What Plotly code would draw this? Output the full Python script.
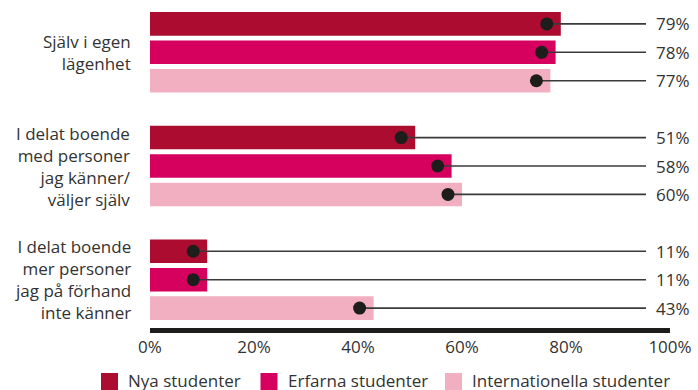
import plotly.graph_objects as go

# Housing categories (rows) and student groups (series)
categories = [
    "Själv i egen<br>lägenhet",
    "I delat boende<br>med personer<br>jag känner/<br>väljer själv",
    "I delat boende<br>mer personer<br>jag på förhand<br>inte känner",
]
series_names = ["Nya studenter", "Erfarna studenter", "Internationella studenter"]
nya = [79, 51, 11]
erfarna = [78, 58, 11]
internationella = [77, 60, 43]
x_ticks = [0, 20, 40, 60, 80, 100]
x_tick_labels = [f"{t}%" for t in x_ticks]

series_values = [nya, erfarna, internationella]
colors = ["#AB0C2F", "#D6005F", "#F1AFC1"]

FONT = "Open Sans"
TEXT = "#333333"
DOT = "#1D1D1B"

# Canvas / plot geometry in pixels
W, H = 698, 390
ML, MR, MT, MB = 150, 28, 4, 62
PW, PH = W - ML - MR, H - MT - MB


def px_x(px):
    return (px - ML) / PW


def px_y(py):
    return (H - MB - py) / PH


DOT_INSET = 14 * 100 / PW        # callout dot sits 14 px inside the bar end
LEADER_END = (646 - ML) * 100 / PW  # callout line stops just before the value label
SLOTS_PER_GROUP = len(series_names) + 1

fig = go.Figure()

positions = [[g * SLOTS_PER_GROUP + s for g in range(len(categories))]
             for s in range(len(series_names))]

for name, vals, ys, col in zip(series_names, series_values, positions, colors):
    fig.add_trace(go.Bar(
        x=vals, y=ys, orientation="h", width=0.83, name=name,
        marker=dict(color=col, line=dict(width=0)), showlegend=False,
        hoverinfo="x",
    ))

# Callout lines from a dot inside each bar end out to the value label
for vals, ys in zip(series_values, positions):
    lx, ly = [], []
    for v, y in zip(vals, ys):
        lx += [v - DOT_INSET, LEADER_END, None]
        ly += [y, y, None]
    fig.add_trace(go.Scatter(x=lx, y=ly, mode="lines",
                             line=dict(color="#3A3A3A", width=1.6),
                             showlegend=False, hoverinfo="skip"))

for vals, ys in zip(series_values, positions):
    fig.add_trace(go.Scatter(x=[v - DOT_INSET for v in vals], y=ys, mode="markers",
                             marker=dict(color=DOT, size=13, line=dict(width=0)),
                             showlegend=False, hoverinfo="skip"))

annotations = []
# Value labels at the right edge
for vals, ys in zip(series_values, positions):
    for v, y in zip(vals, ys):
        annotations.append(dict(
            x=px_x(692), xref="paper", xanchor="right", y=y, yref="y",
            text=f"{v}%", showarrow=False,
            font=dict(family=FONT, size=17, color=TEXT),
        ))

# Category labels, centred on the middle bar of each group
for g, cat in enumerate(categories):
    annotations.append(dict(
        x=px_x(133), xref="paper", xanchor="right", align="right",
        y=g * SLOTS_PER_GROUP + 1, yref="y", yanchor="middle",
        text=cat, showarrow=False,
        font=dict(family=FONT, size=17, color=TEXT),
    ))

# Legend drawn beneath the axis
shapes = []
legend_x = [101, 260.5, 445]
for name, col, lx in zip(series_names, colors, legend_x):
    shapes.append(dict(type="rect", xref="paper", yref="paper",
                       x0=px_x(lx), x1=px_x(lx + 17), y0=px_y(390), y1=px_y(373),
                       fillcolor=col, line=dict(width=0)))
    annotations.append(dict(
        x=px_x(lx + 25), xref="paper", xanchor="left",
        y=px_y(380.5), yref="paper", yanchor="middle",
        text=name, showarrow=False,
        font=dict(family=FONT, size=17, color=TEXT),
    ))

n_slots = SLOTS_PER_GROUP * len(categories) - 1
fig.update_layout(
    width=W, height=H,
    margin=dict(l=ML, r=MR, t=MT, b=MB, pad=0),
    paper_bgcolor="white", plot_bgcolor="white",
    barmode="overlay",
    showlegend=False,
    font=dict(family=FONT, size=17, color=TEXT),
    annotations=annotations,
    shapes=shapes,
    xaxis=dict(
        range=[0, 100], tickmode="array", tickvals=x_ticks, ticktext=x_tick_labels,
        showgrid=False, zeroline=False,
        showline=True, linewidth=5, linecolor=DOT,
        ticks="",
        tickfont=dict(family=FONT, size=17, color=TEXT),
        fixedrange=True,
    ),
    yaxis=dict(
        range=[n_slots - 1 + 0.70, -0.70],
        visible=False, showgrid=False, zeroline=False, fixedrange=True,
    ),
)

fig.write_html("out.html")
